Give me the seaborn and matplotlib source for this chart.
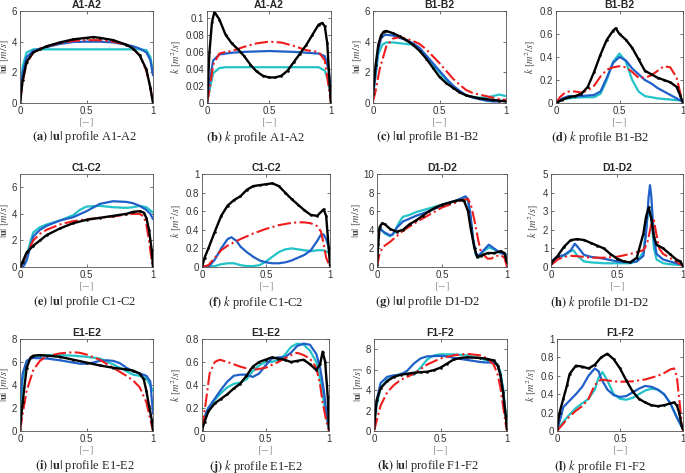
import matplotlib
matplotlib.use("Agg")
import matplotlib.pyplot as plt
from matplotlib.ticker import FuncFormatter
import pandas as pd
import seaborn as sns

# ---- data: (position, value) pairs ----
# black = measured, red = model 1, blue = model 2, cyan = model 3
a_black = [(0,0),(0.02,1.5),(0.05,2.7),(0.1,3.3),(0.15,3.5),(0.2,3.7),(0.3,3.95),(0.4,4.15),(0.5,4.25),(0.55,4.3),(0.6,4.25),(0.7,4.1),(0.8,3.8),(0.85,3.55),(0.9,3.1),(0.95,2.2),(0.98,1.0),(1,0)]
a_red = [(0,0),(0.02,1.4),(0.05,2.6),(0.1,3.3),(0.15,3.55),(0.2,3.7),(0.3,3.9),(0.4,4.05),(0.5,4.1),(0.6,4.1),(0.7,4.0),(0.8,3.8),(0.85,3.55),(0.9,3.1),(0.95,2.1),(0.98,1.0),(1,0)]
a_blue = [(0,0),(0.02,2.0),(0.05,3.0),(0.1,3.4),(0.15,3.55),(0.2,3.65),(0.3,3.85),(0.4,3.98),(0.5,4.0),(0.6,4.0),(0.7,3.95),(0.8,3.8),(0.85,3.7),(0.9,3.55),(0.95,3.3),(0.98,2.8),(1,1.8)]
a_cyan = [(0,0),(0.02,2.4),(0.05,3.3),(0.1,3.5),(0.3,3.5),(0.5,3.5),(0.7,3.5),(0.9,3.5),(0.95,3.45),(0.98,3.0),(1,2.0)]

b_black = [(0,0),(0.02,0.06),(0.04,0.095),(0.06,0.107),(0.1,0.098),(0.15,0.08),(0.2,0.07),(0.25,0.063),(0.3,0.055),(0.35,0.045),(0.4,0.037),(0.45,0.032),(0.5,0.030),(0.55,0.030),(0.6,0.032),(0.65,0.038),(0.7,0.048),(0.75,0.058),(0.8,0.068),(0.85,0.08),(0.9,0.092),(0.93,0.094),(0.95,0.09),(0.97,0.07),(0.99,0.02),(1,0)]
b_red = [(0,0),(0.02,0.015),(0.05,0.045),(0.1,0.058),(0.15,0.06),(0.2,0.061),(0.3,0.066),(0.4,0.07),(0.5,0.072),(0.6,0.071),(0.7,0.067),(0.8,0.062),(0.9,0.06),(0.95,0.05),(0.98,0.02),(1,0)]
b_blue = [(0,0),(0.02,0.025),(0.05,0.05),(0.1,0.057),(0.2,0.059),(0.3,0.06),(0.5,0.061),(0.7,0.06),(0.8,0.059),(0.9,0.058),(0.95,0.055),(0.98,0.04),(1,0.015)]
b_cyan = [(0,0),(0.02,0.015),(0.05,0.035),(0.1,0.041),(0.15,0.042),(0.5,0.042),(0.9,0.042),(0.95,0.038),(0.98,0.025),(1,0.005)]

c_black = [(0,0.6),(0.02,2.5),(0.04,3.8),(0.06,4.4),(0.08,4.65),(0.1,4.7),(0.15,4.55),(0.2,4.35),(0.25,4.1),(0.3,3.8),(0.35,3.4),(0.4,2.9),(0.45,2.3),(0.5,1.7),(0.55,1.3),(0.6,1.0),(0.65,0.7),(0.7,0.5),(0.8,0.3),(0.9,0.2),(0.95,0.15),(1,0.1)]
c_red = [(0,0.1),(0.02,0.8),(0.05,2.2),(0.1,3.7),(0.15,4.2),(0.2,4.3),(0.25,4.2),(0.3,4.05),(0.35,3.85),(0.4,3.5),(0.45,3.05),(0.5,2.6),(0.55,2.1),(0.6,1.6),(0.65,1.2),(0.7,0.85),(0.75,0.65),(0.8,0.55),(0.85,0.45),(0.9,0.35),(0.95,0.25),(1,0.2)]
c_blue = [(0,0.5),(0.02,2.0),(0.04,3.5),(0.06,4.2),(0.08,4.4),(0.1,4.45),(0.15,4.4),(0.2,4.25),(0.25,4.1),(0.3,3.9),(0.35,3.6),(0.4,3.1),(0.45,2.6),(0.5,2.1),(0.55,1.6),(0.6,1.15),(0.65,0.8),(0.7,0.5),(0.75,0.35),(0.8,0.25),(0.85,0.15),(0.9,0.1),(0.95,0.1),(1,0.2)]
c_cyan = [(0,0.5),(0.02,1.8),(0.04,3.2),(0.07,3.8),(0.1,3.95),(0.15,3.95),(0.2,3.9),(0.3,3.8),(0.35,3.5),(0.4,3.0),(0.45,2.5),(0.5,2.0),(0.55,1.5),(0.6,1.1),(0.65,0.75),(0.7,0.5),(0.75,0.4),(0.8,0.35),(0.85,0.35),(0.9,0.45),(0.95,0.55),(1,0.45)]

d_black = [(0,0),(0.05,0.03),(0.1,0.05),(0.15,0.06),(0.2,0.08),(0.25,0.14),(0.3,0.27),(0.35,0.42),(0.4,0.55),(0.45,0.63),(0.47,0.65),(0.5,0.6),(0.55,0.55),(0.6,0.48),(0.65,0.38),(0.7,0.28),(0.75,0.25),(0.8,0.22),(0.85,0.2),(0.9,0.18),(0.95,0.14),(0.98,0.06),(1,0)]
d_red = [(0,0),(0.03,0.05),(0.07,0.09),(0.1,0.1),(0.15,0.1),(0.2,0.09),(0.25,0.11),(0.3,0.15),(0.35,0.23),(0.4,0.29),(0.45,0.31),(0.5,0.32),(0.55,0.31),(0.6,0.27),(0.65,0.22),(0.7,0.22),(0.75,0.24),(0.8,0.28),(0.85,0.32),(0.9,0.31),(0.95,0.22),(0.98,0.08),(1,0)]
d_blue = [(0,0),(0.05,0.04),(0.1,0.06),(0.2,0.06),(0.3,0.07),(0.35,0.1),(0.4,0.22),(0.45,0.35),(0.5,0.40),(0.55,0.37),(0.6,0.3),(0.65,0.25),(0.7,0.2),(0.75,0.17),(0.8,0.13),(0.85,0.1),(0.9,0.07),(0.95,0.04),(1,0.01)]
d_cyan = [(0,0),(0.05,0.03),(0.1,0.04),(0.2,0.05),(0.3,0.05),(0.35,0.08),(0.4,0.2),(0.45,0.36),(0.5,0.43),(0.55,0.36),(0.6,0.2),(0.65,0.1),(0.7,0.06),(0.8,0.04),(0.9,0.03),(1,0.02)]

e_black = [(0,0),(0.02,0.4),(0.05,1.1),(0.1,1.6),(0.15,2.0),(0.2,2.4),(0.3,2.9),(0.4,3.3),(0.5,3.55),(0.6,3.7),(0.7,3.85),(0.8,4.0),(0.85,4.15),(0.9,4.2),(0.93,4.1),(0.95,3.7),(0.97,2.8),(0.99,1.3),(1,0)]
e_red = [(0,0),(0.02,0.3),(0.05,1.0),(0.1,2.0),(0.15,2.5),(0.2,2.8),(0.3,3.2),(0.4,3.45),(0.5,3.6),(0.6,3.7),(0.7,3.8),(0.8,3.95),(0.85,4.0),(0.9,4.0),(0.93,3.8),(0.95,3.2),(0.97,2.0),(0.99,0.5),(1,0)]
e_blue = [(0,0),(0.03,0.1),(0.05,0.5),(0.08,1.6),(0.1,2.3),(0.15,2.8),(0.2,3.1),(0.3,3.5),(0.4,3.75),(0.5,4.2),(0.6,4.75),(0.7,4.95),(0.8,4.9),(0.85,4.8),(0.9,4.6),(0.95,4.3),(0.98,4.0),(1,3.6)]
e_cyan = [(0,0),(0.03,0.2),(0.05,0.8),(0.08,2.0),(0.1,2.6),(0.15,3.0),(0.2,3.2),(0.3,3.5),(0.4,3.9),(0.45,4.3),(0.5,4.55),(0.6,4.6),(0.7,4.5),(0.8,4.45),(0.85,4.5),(0.9,4.6),(0.95,4.5),(1,4.1)]

f_black = [(0,0),(0.02,0.1),(0.05,0.2),(0.1,0.38),(0.15,0.55),(0.2,0.66),(0.25,0.72),(0.3,0.76),(0.35,0.83),(0.4,0.87),(0.45,0.88),(0.5,0.89),(0.55,0.9),(0.6,0.87),(0.65,0.8),(0.7,0.73),(0.75,0.67),(0.8,0.61),(0.85,0.56),(0.9,0.55),(0.95,0.62),(0.97,0.55),(0.99,0.2),(1,0.02)]
f_red = [(0,0),(0.05,0.02),(0.1,0.1),(0.15,0.18),(0.2,0.23),(0.3,0.3),(0.4,0.36),(0.5,0.41),(0.6,0.45),(0.7,0.475),(0.75,0.48),(0.8,0.48),(0.85,0.47),(0.9,0.44),(0.93,0.38),(0.95,0.25),(0.97,0.1),(1,0)]
f_blue = [(0,0),(0.05,0.0),(0.1,0.08),(0.15,0.2),(0.2,0.3),(0.23,0.32),(0.27,0.28),(0.3,0.22),(0.35,0.16),(0.4,0.11),(0.45,0.07),(0.5,0.05),(0.55,0.04),(0.6,0.04),(0.65,0.05),(0.7,0.07),(0.75,0.1),(0.8,0.13),(0.85,0.18),(0.9,0.28),(0.93,0.35),(0.95,0.35),(0.97,0.3),(1,0.17)]
f_cyan = [(0,0),(0.1,0.01),(0.15,0.03),(0.2,0.04),(0.25,0.04),(0.3,0.02),(0.35,0.01),(0.4,0.01),(0.45,0.02),(0.5,0.06),(0.55,0.11),(0.6,0.16),(0.65,0.19),(0.7,0.2),(0.75,0.19),(0.8,0.18),(0.85,0.17),(0.9,0.18),(0.95,0.18),(1,0.15)]

g_black = [(0,0.2),(0.01,2.5),(0.02,4.3),(0.04,4.7),(0.06,4.6),(0.1,4.1),(0.15,3.8),(0.2,4.0),(0.25,4.6),(0.3,5.0),(0.35,5.5),(0.4,6.0),(0.45,6.4),(0.5,6.7),(0.55,6.9),(0.6,7.1),(0.65,7.2),(0.67,7.1),(0.7,6.0),(0.72,4.2),(0.75,2.0),(0.77,1.1),(0.8,1.2),(0.85,1.5),(0.9,1.5),(0.95,1.7),(0.98,1.5),(1,0.5)]
g_red = [(0,0),(0.02,1.5),(0.05,2.2),(0.1,2.7),(0.15,3.3),(0.2,3.9),(0.3,4.8),(0.4,5.6),(0.5,6.4),(0.6,6.9),(0.65,7.2),(0.7,7.3),(0.72,6.8),(0.75,5.0),(0.78,2.8),(0.8,1.6),(0.85,0.9),(0.88,0.9),(0.9,1.1),(0.95,1.3),(0.98,1.0),(1,0)]
g_blue = [(0,3.9),(0.03,4.0),(0.06,3.7),(0.1,3.4),(0.12,3.5),(0.15,4.2),(0.2,4.9),(0.25,5.2),(0.3,5.5),(0.4,6.0),(0.5,6.6),(0.6,7.1),(0.65,7.4),(0.68,7.6),(0.7,7.3),(0.72,5.5),(0.74,3.0),(0.76,1.5),(0.78,1.2),(0.82,1.8),(0.86,2.4),(0.9,2.0),(0.95,1.5),(0.98,1.4),(1,1.2)]
g_cyan = [(0,4.0),(0.03,4.1),(0.06,3.6),(0.1,3.3),(0.13,3.6),(0.17,4.8),(0.2,5.4),(0.25,5.6),(0.3,5.9),(0.4,6.3),(0.5,6.7),(0.6,7.1),(0.65,7.3),(0.68,7.4),(0.7,7.1),(0.72,5.2),(0.74,2.8),(0.76,1.3),(0.78,1.0),(0.82,1.7),(0.86,2.1),(0.9,1.9),(0.95,1.5),(0.98,1.5),(1,1.3)]

h_black = [(0,0.2),(0.05,0.6),(0.1,1.1),(0.15,1.45),(0.2,1.5),(0.25,1.45),(0.3,1.3),(0.35,1.15),(0.4,1.0),(0.45,0.7),(0.5,0.45),(0.55,0.3),(0.6,0.25),(0.65,0.5),(0.7,1.8),(0.72,2.7),(0.74,3.2),(0.76,2.6),(0.78,1.6),(0.8,1.2),(0.85,1.0),(0.9,0.7),(0.95,0.4),(0.98,0.3),(1,0.05)]
h_red = [(0,0.1),(0.05,0.4),(0.1,0.55),(0.15,0.6),(0.2,0.58),(0.3,0.5),(0.4,0.5),(0.5,0.55),(0.6,0.7),(0.7,0.9),(0.73,1.3),(0.76,2.3),(0.78,2.5),(0.8,1.7),(0.82,1.0),(0.85,0.7),(0.9,0.5),(0.95,0.3),(1,0.05)]
h_blue = [(0,0.3),(0.05,0.55),(0.1,0.65),(0.15,0.9),(0.18,1.25),(0.2,1.1),(0.25,0.65),(0.3,0.55),(0.4,0.45),(0.5,0.3),(0.6,0.25),(0.65,0.3),(0.7,0.6),(0.72,1.8),(0.74,3.8),(0.75,4.4),(0.76,3.8),(0.78,1.5),(0.8,0.7),(0.85,0.4),(0.9,0.3),(0.95,0.2),(1,0.1)]
h_cyan = [(0,0.3),(0.05,0.5),(0.1,0.6),(0.15,0.85),(0.17,0.9),(0.2,0.6),(0.25,0.3),(0.3,0.25),(0.4,0.2),(0.5,0.2),(0.6,0.2),(0.65,0.3),(0.7,0.8),(0.72,2.0),(0.74,3.2),(0.76,2.6),(0.78,1.0),(0.8,0.4),(0.85,0.2),(0.9,0.15),(1,0.1)]

i_black = [(0,0.2),(0.02,2.5),(0.05,5.5),(0.08,6.4),(0.1,6.55),(0.15,6.6),(0.2,6.55),(0.3,6.45),(0.4,6.2),(0.5,5.95),(0.6,5.7),(0.7,5.5),(0.8,5.35),(0.85,5.25),(0.9,5.0),(0.93,4.5),(0.95,3.5),(0.97,2.2),(0.99,1.0),(1,0.1)]
i_red = [(0,0),(0.02,1.5),(0.05,3.5),(0.1,5.3),(0.15,6.1),(0.2,6.5),(0.3,6.75),(0.4,6.85),(0.45,6.8),(0.5,6.65),(0.6,6.2),(0.7,5.5),(0.8,4.8),(0.85,4.4),(0.9,3.8),(0.95,2.5),(0.98,1.0),(1,0)]
i_blue = [(0,2.5),(0.02,5.0),(0.05,6.1),(0.08,6.3),(0.1,6.35),(0.2,6.3),(0.3,6.15),(0.4,5.95),(0.45,5.85),(0.5,5.85),(0.55,5.95),(0.6,6.1),(0.65,6.15),(0.7,6.1),(0.75,5.9),(0.8,5.5),(0.85,5.2),(0.9,5.0),(0.95,4.8),(0.98,4.3),(1,1.5)]
i_cyan = [(0,1.5),(0.02,4.5),(0.05,6.0),(0.1,6.5),(0.2,6.6),(0.3,6.6),(0.4,6.55),(0.5,6.45),(0.6,6.3),(0.7,5.8),(0.8,5.2),(0.85,4.9),(0.9,4.8),(0.95,4.6),(1,3.5)]

j_black = [(0,0.01),(0.02,0.08),(0.05,0.17),(0.1,0.24),(0.15,0.28),(0.2,0.32),(0.25,0.37),(0.3,0.41),(0.35,0.48),(0.4,0.56),(0.45,0.6),(0.5,0.62),(0.55,0.64),(0.6,0.63),(0.65,0.62),(0.7,0.6),(0.75,0.61),(0.8,0.62),(0.85,0.58),(0.9,0.53),(0.93,0.58),(0.95,0.69),(0.97,0.6),(0.99,0.3),(1,0.02)]
j_red = [(0,0.02),(0.03,0.25),(0.06,0.5),(0.1,0.6),(0.14,0.62),(0.2,0.6),(0.3,0.56),(0.4,0.53),(0.5,0.55),(0.6,0.6),(0.7,0.66),(0.75,0.68),(0.8,0.66),(0.85,0.63),(0.9,0.55),(0.93,0.4),(0.95,0.25),(0.98,0.08),(1,0)]
j_blue = [(0,0.02),(0.03,0.15),(0.05,0.2),(0.1,0.28),(0.15,0.36),(0.2,0.43),(0.25,0.48),(0.3,0.49),(0.35,0.49),(0.4,0.47),(0.45,0.5),(0.5,0.57),(0.55,0.63),(0.6,0.64),(0.65,0.64),(0.7,0.68),(0.75,0.74),(0.8,0.76),(0.85,0.75),(0.9,0.67),(0.93,0.55),(0.96,0.35),(0.98,0.15),(1,0.02)]
j_cyan = [(0,0.02),(0.03,0.15),(0.05,0.2),(0.1,0.27),(0.15,0.33),(0.2,0.38),(0.25,0.41),(0.3,0.42),(0.35,0.45),(0.4,0.52),(0.45,0.57),(0.5,0.6),(0.55,0.6),(0.6,0.62),(0.65,0.66),(0.7,0.73),(0.75,0.76),(0.8,0.75),(0.85,0.7),(0.9,0.6),(0.93,0.45),(0.96,0.25),(0.98,0.12),(1,0.02)]

k_black = [(0,0.3),(0.02,3.0),(0.05,4.2),(0.1,4.9),(0.15,5.3),(0.2,5.5),(0.25,5.6),(0.3,5.7),(0.35,5.75),(0.4,5.8),(0.45,5.95),(0.5,6.2),(0.55,6.6),(0.6,7.0),(0.65,7.15),(0.7,7.2),(0.8,7.15),(0.85,7.05),(0.9,6.9),(0.93,6.4),(0.95,5.5),(0.97,3.8),(0.99,1.5),(1,0.2)]
k_red = [(0,0),(0.02,1.0),(0.05,2.5),(0.1,3.8),(0.15,4.5),(0.2,5.0),(0.3,5.6),(0.4,6.5),(0.5,7.1),(0.6,7.4),(0.7,7.55),(0.8,7.4),(0.85,7.1),(0.9,6.5),(0.93,5.5),(0.95,4.3),(0.97,2.5),(0.99,0.7),(1,0)]
k_blue = [(0,0.8),(0.02,3.0),(0.05,4.7),(0.1,5.3),(0.15,5.45),(0.2,5.5),(0.25,5.9),(0.3,6.6),(0.35,7.1),(0.4,7.3),(0.5,7.35),(0.55,7.3),(0.6,7.15),(0.7,6.95),(0.8,6.75),(0.85,6.7),(0.9,6.7),(0.93,6.4),(0.95,5.6),(0.97,4.0),(0.99,1.5),(1,0.5)]
k_cyan = [(0,0.6),(0.02,2.5),(0.05,4.2),(0.1,5.0),(0.15,5.35),(0.2,5.6),(0.25,5.6),(0.3,5.5),(0.35,6.2),(0.4,7.0),(0.45,7.4),(0.5,7.5),(0.6,7.5),(0.7,7.4),(0.8,7.1),(0.85,6.9),(0.9,6.8),(0.93,6.5),(0.95,5.8),(0.97,4.2),(0.99,1.8),(1,0.5)]

l_black = [(0,0.02),(0.02,0.2),(0.05,0.35),(0.08,0.5),(0.1,0.62),(0.15,0.71),(0.2,0.7),(0.25,0.68),(0.3,0.72),(0.35,0.8),(0.4,0.84),(0.45,0.78),(0.5,0.68),(0.55,0.55),(0.6,0.43),(0.65,0.35),(0.7,0.31),(0.75,0.28),(0.8,0.27),(0.85,0.28),(0.9,0.3),(0.93,0.31),(0.95,0.28),(0.97,0.2),(0.99,0.05),(1,0.02)]
l_red = [(0,0),(0.05,0.08),(0.1,0.16),(0.15,0.22),(0.2,0.27),(0.25,0.35),(0.3,0.5),(0.35,0.56),(0.4,0.55),(0.45,0.54),(0.5,0.535),(0.6,0.54),(0.7,0.56),(0.8,0.6),(0.85,0.63),(0.9,0.67),(0.93,0.68),(0.95,0.6),(0.97,0.35),(0.99,0.08),(1,0)]
l_blue = [(0,0.01),(0.03,0.15),(0.05,0.26),(0.1,0.33),(0.15,0.4),(0.2,0.48),(0.25,0.6),(0.3,0.68),(0.33,0.65),(0.35,0.57),(0.4,0.45),(0.45,0.39),(0.5,0.37),(0.55,0.38),(0.6,0.42),(0.65,0.46),(0.7,0.49),(0.75,0.48),(0.8,0.45),(0.85,0.4),(0.9,0.3),(0.95,0.15),(1,0.02)]
l_cyan = [(0,0.01),(0.05,0.1),(0.1,0.18),(0.15,0.25),(0.2,0.3),(0.25,0.35),(0.3,0.45),(0.33,0.58),(0.36,0.64),(0.4,0.55),(0.45,0.4),(0.5,0.35),(0.55,0.34),(0.6,0.36),(0.65,0.4),(0.7,0.44),(0.75,0.46),(0.8,0.45),(0.85,0.4),(0.9,0.3),(0.95,0.15),(1,0.02)]

# panel letter, section, quantity, y max, y ticks
panels = [
    ("a", "A1-A2", "u", 6, [0, 2, 4, 6]),
    ("b", "A1-A2", "k", 0.108, [0, 0.02, 0.04, 0.06, 0.08, 0.1]),
    ("c", "B1-B2", "u", 6, [0, 2, 4, 6]),
    ("d", "B1-B2", "k", 0.8, [0, 0.2, 0.4, 0.6, 0.8]),
    ("e", "C1-C2", "u", 7, [0, 2, 4, 6]),
    ("f", "C1-C2", "k", 1, [0, 0.2, 0.4, 0.6, 0.8, 1]),
    ("g", "D1-D2", "u", 10, [0, 2, 4, 6, 8, 10]),
    ("h", "D1-D2", "k", 5, [0, 1, 2, 3, 4, 5]),
    ("i", "E1-E2", "u", 8, [0, 2, 4, 6, 8]),
    ("j", "E1-E2", "k", 0.8, [0, 0.2, 0.4, 0.6, 0.8]),
    ("k", "F1-F2", "u", 9, [0, 2, 4, 6, 8]),
    ("l", "F1-F2", "k", 1, [0, 0.2, 0.4, 0.6, 0.8, 1]),
]
series = {
    "a": [a_black, a_red, a_blue, a_cyan], "b": [b_black, b_red, b_blue, b_cyan],
    "c": [c_black, c_red, c_blue, c_cyan], "d": [d_black, d_red, d_blue, d_cyan],
    "e": [e_black, e_red, e_blue, e_cyan], "f": [f_black, f_red, f_blue, f_cyan],
    "g": [g_black, g_red, g_blue, g_cyan], "h": [h_black, h_red, h_blue, h_cyan],
    "i": [i_black, i_red, i_blue, i_cyan], "j": [j_black, j_red, j_blue, j_cyan],
    "k": [k_black, k_red, k_blue, k_cyan], "l": [l_black, l_red, l_blue, l_cyan],
}

# ---- layout (pixels of the 685x473 figure) ----
W, H = 685, 473
rows = [(11, 103), (174, 267), (339, 431)]
cols = [[(20, 153), (207, 331), (373, 506), (556, 683)],
        [(20, 153), (202, 330), (377, 507), (551, 683)],
        [(20, 153), (202, 329), (374, 507), (557, 683)]]
col_centres = [85, 256, 428, 600]
caption_y = [137, 302, 466]

sns.set_theme(style="ticks")
plt.rcParams["font.family"] = ["Liberation Sans", "DejaVu Sans"]
plt.rcParams["mathtext.fontset"] = "stix"

styles = [
    dict(color="black", lw=1.7, marker=".", ms=3, mec="black", mew=0.3),
    dict(color="#ee1c1c", lw=1.5, linestyle="-."),
    dict(color="#1f5fc8", lw=1.6),
    dict(color="#22c3c8", lw=1.6),
]

fig = plt.figure(figsize=(6.85, 4.73), dpi=100)
for n, (letter, section, qty, ymax, yticks) in enumerate(panels):
    r, c = divmod(n, 4)
    top, bot = rows[r]
    left, right = cols[r][c]
    ax = fig.add_axes([left / W, 1 - bot / H, (right - left) / W, (bot - top) / H])
    for pts, st in zip(series[letter][::-1], styles[::-1]):
        df = pd.DataFrame(pts, columns=["x", "y"])
        sns.lineplot(data=df, x="x", y="y", ax=ax, sort=False, estimator=None, **st)
    ax.set_xlim(0, 1)
    ax.set_ylim(0, ymax)
    ax.set_xticks([0, 0.5, 1])
    ax.set_yticks(yticks)
    ax.xaxis.set_major_formatter(FuncFormatter(lambda v, p: f"{v:g}"))
    ax.yaxis.set_major_formatter(FuncFormatter(lambda v, p: f"{v:g}"))
    ax.tick_params(direction="in", length=2.5, width=0.5, labelsize=7, pad=2,
                   top=True, right=True, colors="#333333")
    for sp in ax.spines.values():
        sp.set_color("#555555")
        sp.set_linewidth(0.6)
    ax.set_xlabel(r"$[-]$", fontsize=8, color="#999999", labelpad=1)
    if qty == "u":
        ax.set_ylabel(r"$|\mathbf{u}|\ [m/s]$", fontsize=7.5, color="#444444", labelpad=0.5)
        cap = rf"$\mathbf{{({letter})}}$ $|\mathbf{{u}}|$ profile {section}"
    else:
        ax.set_ylabel(r"$k\ [m^2/s]$", fontsize=7.5, color="#444444", labelpad=1)
        cap = rf"$\mathbf{{({letter})}}$ $k$ profile {section}"
    if c == 0:
        ax.yaxis.set_label_coords((11 - left) / (right - left), 0.5)
    ax.set_title(section, fontsize=7.5, fontweight="bold", pad=2)
    fig.text(col_centres[c] / W, 1 - caption_y[r] / H, cap, ha="center", va="center",
             fontsize=9, family=["Liberation Serif", "DejaVu Serif"])

fig.savefig("out.png", dpi=100)
